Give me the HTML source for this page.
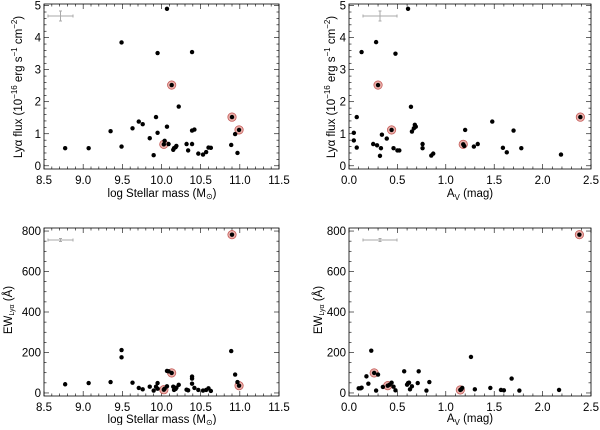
<!DOCTYPE html>
<html><head><meta charset="utf-8"><style>
body{margin:0;background:#fff;}
svg text{font-family:"Liberation Sans",sans-serif;fill:#000;}
</style></head><body>
<svg id="c" width="600" height="425" xmlns="http://www.w3.org/2000/svg"></svg>
<script>
// Panel A: Lya flux vs stellar mass
const massA=[8.77,9.07,9.35,9.49,9.49,9.63,9.71,9.76,9.85,9.9,9.93,9.95,9.95,10.03,10.04,10.07,10.07,10.09,10.13,10.15,10.16,10.18,10.19,10.22,10.32,10.34,10.39,10.39,10.39,10.42,10.47,10.53,10.57,10.6,10.63,10.89,10.9,10.94,10.97,10.99];
const fluxA=[0.55,0.55,1.08,0.6,3.85,1.17,1.38,1.3,0.86,0.33,1.52,1.03,3.52,0.67,0.78,1.22,4.9,0.68,2.52,0.5,0.55,0.58,0.62,1.85,0.68,0.48,0.68,3.55,1.1,1.13,0.38,0.35,0.43,0.57,0.56,0.65,1.52,0.99,0.4,1.12];
const redA=[13,18,36,39];
// Panel B: Lya flux vs Av
const avB=[0.05,0.05,0.08,0.08,0.13,0.25,0.28,0.29,0.3,0.32,0.33,0.34,0.39,0.44,0.46,0.48,0.5,0.52,0.61,0.64,0.65,0.67,0.68,0.69,0.76,0.76,0.85,0.87,1.18,1.19,1.2,1.29,1.33,1.48,1.59,1.63,1.7,1.78,2.19,2.39];
const fluxB=[1.03,0.79,1.52,0.57,3.55,0.68,3.86,0.64,2.52,0.31,0.55,0.97,0.85,1.12,0.55,3.5,0.48,0.48,4.9,1.84,1.07,1.17,1.28,1.22,0.55,0.68,0.32,0.38,0.67,0.62,1.12,0.6,0.68,1.38,0.56,0.42,1.1,0.55,0.35,1.52];
const redB=[8,13,28,39];
// Panel C: EW vs stellar mass
const massC=[8.77,9.07,9.35,9.49,9.49,9.63,9.71,9.76,9.85,9.9,9.93,9.95,9.95,10.03,10.04,10.07,10.07,10.09,10.13,10.15,10.16,10.18,10.19,10.22,10.32,10.34,10.39,10.39,10.39,10.42,10.47,10.53,10.57,10.6,10.63,10.89,10.9,10.94,10.97,10.99];
const ewC=[43,49,54,212,176,51,25,18,31,12,31,21,49,16,21,33,109,107,99,31,15,20,26,40,16,13,46,71,81,25,15,12,15,23,10,207,782,91,54,36];
const redC=[13,18,36,39];
// Panel D: EW vs Av
const avD=[0.1,0.12,0.13,0.18,0.2,0.23,0.26,0.28,0.3,0.35,0.4,0.42,0.44,0.46,0.48,0.57,0.6,0.61,0.62,0.63,0.65,0.71,0.72,0.8,0.83,1.15,1.16,1.17,1.26,1.3,1.46,1.57,1.6,1.68,1.76,2.17,2.38];
const ewD=[23,23,26,82,46,209,99,12,91,30,36,41,51,31,13,107,41,49,51,18,33,49,107,12,54,15,18,25,178,18,25,15,13,71,12,15,782];
const redD=[6,10,25,36];

const NS="http://www.w3.org/2000/svg";
const svg=document.getElementById('c');
function mk(tag,attrs,parent){const e=document.createElementNS(NS,tag);for(const k in attrs)e.setAttribute(k,attrs[k]);(parent||svg).appendChild(e);return e;}

function panel(id,L,R,T,B,xmin,xmax,ymin,ymax,xMajor,xMinorN,yMajor,yMinorN,xdec,xs,ys,reds,ebar){
  const g=mk('g',{});
  
  
  const sx=v=>L+(v-xmin)/(xmax-xmin)*(R-L);
  const sy=v=>B-(v-ymin)/(ymax-ymin)*(B-T);
  const fr=mk('rect',{x:L,y:T,width:R-L,height:B-T,fill:'none',stroke:'#000','stroke-width':0.8},g);
  
  
  const xstep=xMajor/xMinorN;
  for(let i=0;;i++){const v=xmin+i*xstep;if(v>xmax+1e-9)break;const X=sx(v);const maj=i%xMinorN===0;const len=maj?5:2.5;
    mk('line',{x1:X,y1:B,x2:X,y2:B-len,stroke:'#000','stroke-width':0.6},g);
    mk('line',{x1:X,y1:T,x2:X,y2:T+len,stroke:'#000','stroke-width':0.6},g);
    if(maj){const t=mk('text',{x:X,y:B+15,'font-size':11.5,'text-anchor':'middle'},g);t.textContent=v.toFixed(xdec);
      
      }
  }
  const ystep=yMajor/yMinorN;
  const y0=Math.ceil(ymin/ystep-1e-9)*ystep;
  for(let v=y0;v<=ymax+1e-9;v+=ystep){const Y=sy(v);const maj=Math.abs(Math.round(v/yMajor)*yMajor-v)<1e-6;const len=maj?5:2.5;
    mk('line',{x1:L,y1:Y,x2:L+len,y2:Y,stroke:'#000','stroke-width':0.6},g);
    mk('line',{x1:R,y1:Y,x2:R-len,y2:Y,stroke:'#000','stroke-width':0.6},g);
    if(maj){const t=mk('text',{x:L-3,y:Y+4,'font-size':11.5,'text-anchor':'end'},g);t.textContent=Math.round(v);
      
      }
  }
  const eb=mk('g',{stroke:'#aaa','stroke-width':1},g);
  
  
  mk('line',{x1:ebar[0],y1:ebar[2],x2:ebar[1],y2:ebar[2]},eb);
  const cx=(ebar[0]+ebar[1])/2;
  mk('line',{x1:cx,y1:ebar[2]-ebar[3],x2:cx,y2:ebar[2]+ebar[3]},eb);
  for(const e of [ebar[0],ebar[1]])mk('line',{x1:e,y1:ebar[2]-1.5,x2:e,y2:ebar[2]+1.5},eb);
  mk('line',{x1:cx-1.5,y1:ebar[2]-ebar[3],x2:cx+1.5,y2:ebar[2]-ebar[3]},eb);
  mk('line',{x1:cx-1.5,y1:ebar[2]+ebar[3],x2:cx+1.5,y2:ebar[2]+ebar[3]},eb);
  for(const i of reds){const c=mk('circle',{cx:sx(xs[i]),cy:sy(ys[i]),r:4.2,fill:'#eab0ab',stroke:'#c0504d','stroke-width':0.7},g);
    
    }
  for(let i=0;i<xs.length;i++){const c=mk('circle',{cx:sx(xs[i]),cy:sy(ys[i]),r:2.2,fill:'#000'},g);
    
    }
}
panel('flux-mass',44,279,4,169,8.5,11.5,-0.1,5.05,0.5,5,1,5,1,massA,fluxA,redA,[48,73,16,5]);
panel('flux-av',349,591,4,169,0,2.5,-0.1,5.05,0.5,5,1,5,1,avB,fluxB,redB,[363,397,16,5]);
panel('ew-mass',44,279,228,396,8.5,11.5,-15,815,0.5,5,200,4,1,massC,ewC,redC,[48,73,240,1.5]);
panel('ew-av',349,591,228,396,0,2.5,-15,815,0.5,5,200,4,1,avD,ewD,redD,[363,397,240,1.5]);

function label(txt,x,y,rot,name,size){const t=mk('text',{x:x,y:y,'font-size':size||11.5,'text-anchor':'middle',transform:rot?`rotate(-90 ${x} ${y})`:''});t.innerHTML=txt;
  
  }
label('log Stellar mass (M<tspan font-size="8" dy="2">⊙</tspan><tspan dy="-2">)</tspan>',162,197,false,'x-axis-title-mass');
label('A<tspan font-size="8" dy="3">V</tspan><tspan dy="-3"> (mag)</tspan>',470,197,false,'x-axis-title-av');
label('log Stellar mass (M<tspan font-size="8" dy="2">⊙</tspan><tspan dy="-2">)</tspan>',162,423,false,'x-axis-title-mass-bottom');
label('A<tspan font-size="8" dy="3">V</tspan><tspan dy="-3"> (mag)</tspan>',470,422,false,'x-axis-title-av-bottom');
label('Lyα flux (10<tspan font-size="8" dy="-5">−16</tspan><tspan dy="5"> erg s</tspan><tspan font-size="8" dy="-5">−1</tspan><tspan dy="5"> cm</tspan><tspan font-size="8" dy="-5">−2</tspan><tspan dy="5">)</tspan>',22,87,true,'y-axis-title-flux');
label('Lyα flux (10<tspan font-size="8" dy="-5">−16</tspan><tspan dy="5"> erg s</tspan><tspan font-size="8" dy="-5">−1</tspan><tspan dy="5"> cm</tspan><tspan font-size="8" dy="-5">−2</tspan><tspan dy="5">)</tspan>',335,87,true,'y-axis-title-flux-right');
label('EW<tspan font-size="7" dy="2">Lyα</tspan><tspan dy="-2">   (Å)</tspan>',12,310,true,'y-axis-title-ew');
label('EW<tspan font-size="7" dy="2">Lyα</tspan><tspan dy="-2">   (Å)</tspan>',322,310,true,'y-axis-title-ew-right');
</script>
</body></html>
